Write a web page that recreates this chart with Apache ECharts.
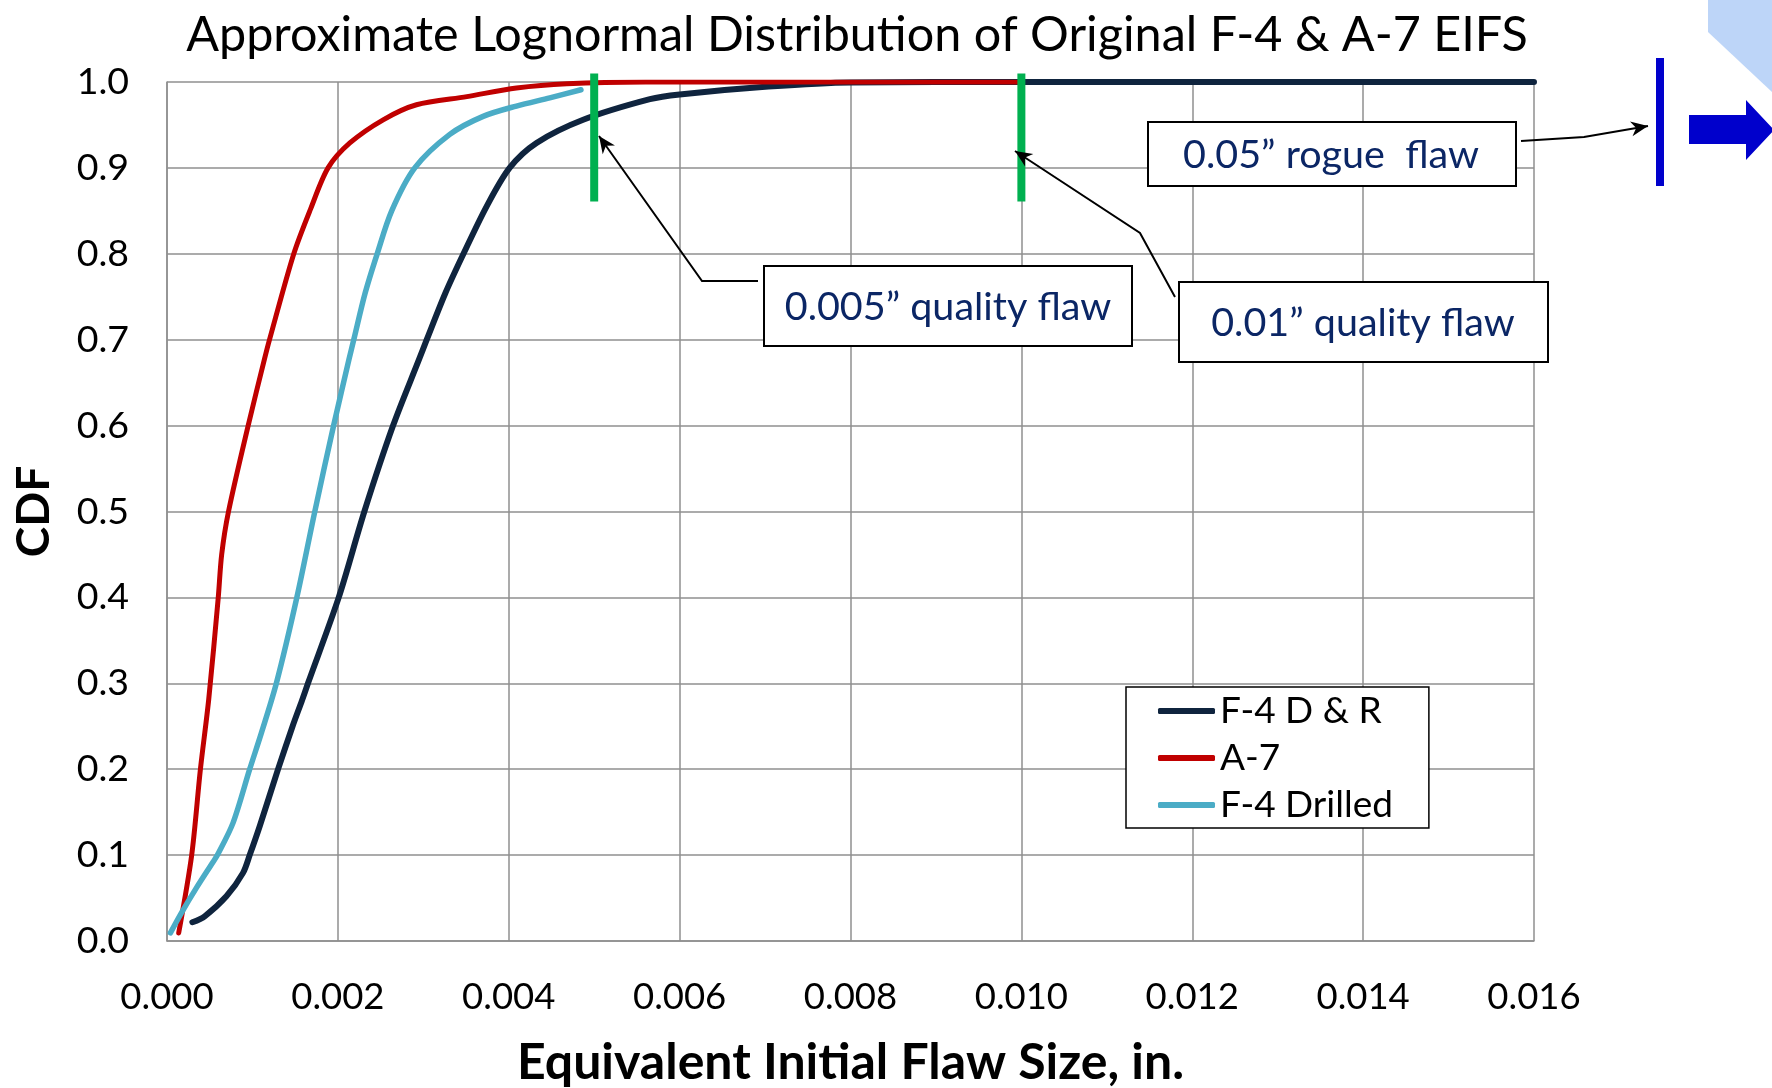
<!DOCTYPE html>
<html><head><meta charset="utf-8">
<script src="https://cdn.jsdelivr.net/npm/echarts@6/dist/echarts.min.js"></script>
<style>html,body{margin:0;padding:0;background:#fff}#c{width:1772px;height:1088px}</style>
</head><body><div id="c"></div>
<script>
const titleText = 'Approximate Lognormal Distribution of Original F-4 & A-7 EIFS';
const xAxisTitle = 'Equivalent Initial Flaw Size, in.';
const yAxisTitle = 'CDF';
const seriesNames = ['F-4 D & R', 'A-7', 'F-4 Drilled'];
const xTicks = [0, 0.002, 0.004, 0.006, 0.008, 0.010, 0.012, 0.014, 0.016];
const yTicks = [0, 0.1, 0.2, 0.3, 0.4, 0.5, 0.6, 0.7, 0.8, 0.9, 1.0];

// F-4 D & R (navy)
const f4drX = [0.000297, 0.000441, 0.000695, 0.00089, 0.000968, 0.001085, 0.0013, 0.00147, 0.00158, 0.00165, 0.00201, 0.00231, 0.002646, 0.00295, 0.00304, 0.00326, 0.00347, 0.00374, 0.00401, 0.004325, 0.004871, 0.005652, 0.006, 0.00704, 0.008, 0.010, 0.016];
const f4drY = [0.0218, 0.0288, 0.052, 0.0793, 0.1, 0.1336, 0.2, 0.25, 0.28, 0.3, 0.4, 0.5, 0.6, 0.677, 0.7, 0.7546, 0.8, 0.855, 0.9, 0.929, 0.956, 0.980, 0.9855, 0.9947, 0.9995, 1.0, 1.0];
// A-7 (red)
const a7X = [0.000137, 0.000289, 0.000391, 0.000488, 0.00060, 0.00064, 0.00072, 0.00095, 0.00114, 0.0012, 0.001484, 0.00168, 0.001885, 0.00214, 0.00253, 0.00292, 0.00351, 0.00409, 0.00468, 0.0056, 0.0100];
const a7Y = [0.0094, 0.1, 0.2, 0.281, 0.4, 0.45, 0.5, 0.6, 0.677, 0.7, 0.8, 0.852, 0.9, 0.929, 0.956, 0.9735, 0.983, 0.993, 0.998, 1.0, 1.0];
// F-4 Drilled (light blue)
const f4dX = [0.00004, 0.000169, 0.000344, 0.000539, 0.00059, 0.000773, 0.000968, 0.001105, 0.00128, 0.00152, 0.00173, 0.00195, 0.00213, 0.002186, 0.00232, 0.00246, 0.00263, 0.00290, 0.00331, 0.0037, 0.00409, 0.00448, 0.004845];
const f4dY = [0.0094, 0.0327, 0.0618, 0.092, 0.1, 0.1375, 0.2, 0.2423, 0.3, 0.4, 0.5, 0.6, 0.677, 0.7, 0.7546, 0.8, 0.85, 0.9, 0.939, 0.960, 0.972, 0.9816, 0.991];

// Quality-flaw markers (green bars): x position, y from, y to
const markerX = [0.005, 0.010];
const markerY = [0.861, 1.010];

const zip = (xs, ys) => xs.map((x, i) => [x, ys[i]]);
const FONT = 'Lato';

function arrowHead(tip, from) {
  const dx = tip[0] - from[0], dy = tip[1] - from[1];
  const len = Math.hypot(dx, dy), ux = dx / len, uy = dy / len;
  const L = 17, W = 7.5, N = 12;
  const bx = tip[0] - ux * L, by = tip[1] - uy * L;
  const nx = tip[0] - ux * N, ny = tip[1] - uy * N;
  return [tip, [bx - uy * W, by + ux * W], [nx, ny], [bx + uy * W, by - ux * W]];
}
function arrow(points) {
  const tip = points[points.length - 1], prev = points[points.length - 2];
  return [
    { type: 'polyline', shape: { points: points }, style: { stroke: '#000', lineWidth: 2, fill: null }, z: 100 },
    { type: 'polygon', shape: { points: arrowHead(tip, prev) }, style: { fill: '#000' }, z: 100 }
  ];
}
function box(x, y, w, h, text, cx, cy) {
  return [
    { type: 'rect', shape: { x: x, y: y, width: w, height: h }, style: { fill: '#fff', stroke: '#000', lineWidth: 2 }, z: 100 },
    { type: 'text', x: cx, y: cy, style: { text: text, fontFamily: FONT, fontSize: 39.5, fill: '#0B2665', align: 'center', verticalAlign: 'middle' }, z: 101 }
  ];
}

const chart = echarts.init(document.getElementById('c'), null, { renderer: 'canvas' });
const gridColor = '#8f8f8f';
const lineCommon = { type: 'line', showSymbol: false, symbol: 'none', smooth: 0.3 };

const greenSeries = markerX.map((mx, i) => ({
  type: 'line', name: 'marker' + i, data: [[mx, markerY[0]], [mx, markerY[1]]], symbol: 'none', clip: false,
  lineStyle: { color: '#00B050', width: 8, cap: 'butt' }, silent: true, z: 5
}));

const option = {
  animation: false,
  backgroundColor: '#fff',
  title: {
    text: titleText, left: 852, top: 6, textAlign: 'center',
    textStyle: { fontFamily: FONT, fontSize: 48.5, fontWeight: 'normal', color: '#000' }
  },
  grid: { left: 167, right: 238, top: 82, bottom: 147, containLabel: false, outerBoundsMode: 'none' },
  legend: {
    data: seriesNames, orient: 'vertical', left: 1126, top: 687,
    backgroundColor: '#fff', borderColor: '#000', borderWidth: 1.5,
    padding: [4, 36, 3, 32], itemGap: 7, itemWidth: 57, itemHeight: 6, icon: 'roundRect',
    textStyle: { fontFamily: FONT, fontSize: 37, color: '#000', lineHeight: 40 }
  },
  xAxis: {
    type: 'value', min: xTicks[0], max: xTicks[xTicks.length - 1], interval: xTicks[1] - xTicks[0],
    axisLine: { show: true, lineStyle: { color: gridColor, width: 1.5 } },
    axisTick: { show: false },
    splitLine: { show: true, lineStyle: { color: gridColor, width: 1.5 } },
    axisLabel: { formatter: v => v.toFixed(3), fontFamily: FONT, fontSize: 36.5, color: '#000', margin: 38 },
    name: xAxisTitle, nameLocation: 'middle', nameGap: 100,
    nameTextStyle: { fontFamily: FONT, fontWeight: 'bold', fontSize: 50, lineHeight: 44, color: '#000' }
  },
  yAxis: {
    type: 'value', min: yTicks[0], max: yTicks[yTicks.length - 1], interval: 0.1,
    axisLine: { show: true, lineStyle: { color: gridColor, width: 1.5 } },
    axisTick: { show: false },
    splitLine: { show: true, lineStyle: { color: gridColor, width: 1.5 } },
    axisLabel: { formatter: v => v.toFixed(1), fontFamily: FONT, fontSize: 37.5, color: '#000', margin: 38 },
    name: yAxisTitle, nameLocation: 'middle', nameGap: 110, nameRotate: 90,
    nameTextStyle: { fontFamily: FONT, fontWeight: 'bold', fontSize: 46, color: '#000' }
  },
  series: [
    Object.assign({}, lineCommon, { name: seriesNames[0], data: zip(f4drX, f4drY), lineStyle: { color: '#0F243E', width: 6, cap: 'round', join: 'round' }, itemStyle: { color: '#0F243E' }, z: 2 }),
    Object.assign({}, lineCommon, { name: seriesNames[1], data: zip(a7X, a7Y), lineStyle: { color: '#C00000', width: 5, cap: 'round', join: 'round' }, itemStyle: { color: '#C00000' }, z: 3 }),
    Object.assign({}, lineCommon, { name: seriesNames[2], data: zip(f4dX, f4dY), lineStyle: { color: '#4BACC6', width: 5.5, cap: 'round', join: 'round' }, itemStyle: { color: '#4BACC6' }, z: 4 })
  ].concat(greenSeries),
  graphic: [].concat(
    box(764, 266, 368, 80, '0.005\u201D quality flaw', 948, 307),
    arrow([[758, 281], [702, 281], [599, 136]]),
    box(1179, 282, 369, 80, '0.01\u201D quality flaw', 1363, 323),
    arrow([[1175, 297], [1140, 233], [1015, 151]]),
    box(1148, 122, 368, 64, '0.05\u201D rogue  flaw', 1331, 155),
    arrow([[1521, 141], [1584, 137], [1648, 126]]),
    [
      { type: 'rect', shape: { x: 1656, y: 58, width: 8, height: 128 }, style: { fill: '#0000CC' }, z: 100 },
      { type: 'polygon', shape: { points: [[1689, 115], [1746, 115], [1746, 100], [1774, 130], [1746, 160], [1746, 144], [1689, 144]] }, style: { fill: '#0000CC' }, z: 100 },
      { type: 'polygon', shape: { points: [[1708, 0], [1708, 32], [1772, 92], [1772, 0]] }, style: { fill: '#BDD5F8' }, z: 99 }
    ]
  )
};
chart.setOption(option);
</script>
</body></html>
